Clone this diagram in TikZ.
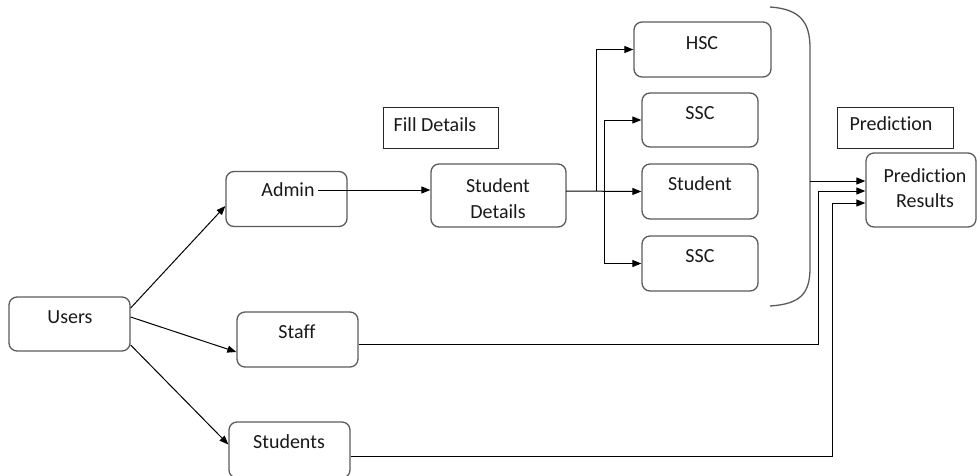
\documentclass[tikz,border=0pt]{standalone}
\usepackage{fontspec}
\setmainfont{Carlito}[Ligatures=NoCommon]
\usetikzlibrary{arrows.meta,calc}
\definecolor{boxgray}{HTML}{5A5A5A}
\newcommand{\predword}{Predict\kern0pt ion}
\begin{document}
\begin{tikzpicture}[x=1pt,y=-1pt,
  box/.style={draw=boxgray,line width=1.3pt,rounded corners=8pt,inner sep=0pt},
  plain/.style={draw=black!85,line width=0.9pt,inner sep=0pt},
  txt/.style={inner sep=0pt,font=\fontsize{20}{25.5}\selectfont,text=black!90,align=center},
  arr/.style={line width=1pt,-{Triangle[length=9pt,width=7pt]}},
  lin/.style={line width=1pt}]
\useasboundingbox (0,0) rectangle (977,475);
% boxes
\node[box,minimum width=121pt,minimum height=54pt] (users) at (69.5,324) {};
\node[txt] (tusers) at (70,317) {Users};
\node[box,minimum width=121pt,minimum height=55pt] (admin) at (286.5,199) {};
\node[txt] (tadmin) at (288,190) {Admin};
\node[box,minimum width=121pt,minimum height=55pt] (staff) at (297.5,339.5) {};
\node[txt] (tstaff) at (297,332) {Staff};
\node[box,minimum width=121pt,minimum height=56pt] (students) at (289.5,450) {};
\node[txt] (tstudents) at (289,442) {Students};
\node[box,minimum width=135pt,minimum height=63pt] (sd) at (498.5,195.5) {};
\node[txt] (tsd) at (498,198.5) {Student\\Details};
\node[plain,minimum width=115pt,minimum height=41pt] (fill) at (440.5,127.5) {};
\node[txt] (tfill) at (435,125) {Fill Details};
\node[box,minimum width=137pt,minimum height=55pt] (hsc) at (702.5,49.5) {};
\node[txt] (thsc) at (702,43) {HSC};
\node[box,minimum width=116pt,minimum height=54pt] (ssca) at (700,120) {};
\node[txt] (tssca) at (700,113) {SSC};
\node[box,minimum width=116pt,minimum height=55pt] (stud) at (700,191.5) {};
\node[txt] (tstud) at (700,184) {Student};
\node[box,minimum width=116pt,minimum height=55pt] (sscb) at (700,263.5) {};
\node[txt] (tsscb) at (700,256) {SSC};
\node[plain,minimum width=116pt,minimum height=41pt] (pred) at (895,127.5) {};
\node[txt] (tpred) at (891,124) {\predword};
\node[box,minimum width=110pt,minimum height=74pt] (pr) at (921,190) {};
\node[txt] (tpr) at (925,188) {\predword\\Results};
% bracket
\draw[draw=boxgray,line width=1.3pt] (770,7) .. controls (800,9) and (810,22) .. (810,48) -- (810,268) .. controls (810,294) and (800,304) .. (770,306);
\coordinate (brk) at (810,181);
% connectors from users
\draw[arr] ([yshift=16pt]users.east) -- ([yshift=-7pt]admin.west);
\draw[arr] ([yshift=7pt]users.east) -- ([yshift=-12.5pt]staff.west);
\draw[arr] ([yshift=-21pt]users.east) -- ([yshift=5.5pt]students.west);
% admin -> student details
\coordinate (a1) at (318,190);
\draw[arr] (a1) -- (sd.west |- a1);
% branches
\coordinate (j) at (566,191);
\draw[arr] (j) -- (stud.west);
\draw[arr] (596,191) |- (hsc.west);
\draw[arr] (604,191) |- (ssca.west);
\draw[arr] (604,191) |- (sscb.west);
% to prediction results
\draw[arr] (brk) -- ([yshift=9pt]pr.west);
\draw[arr] ([yshift=-4.5pt]staff.east) -| (818,191) -- ([yshift=-1pt]pr.west);
\draw[arr] ([yshift=-6.5pt]students.east) -| (832,203) -- ([yshift=-13pt]pr.west);
\end{tikzpicture}
\end{document}
